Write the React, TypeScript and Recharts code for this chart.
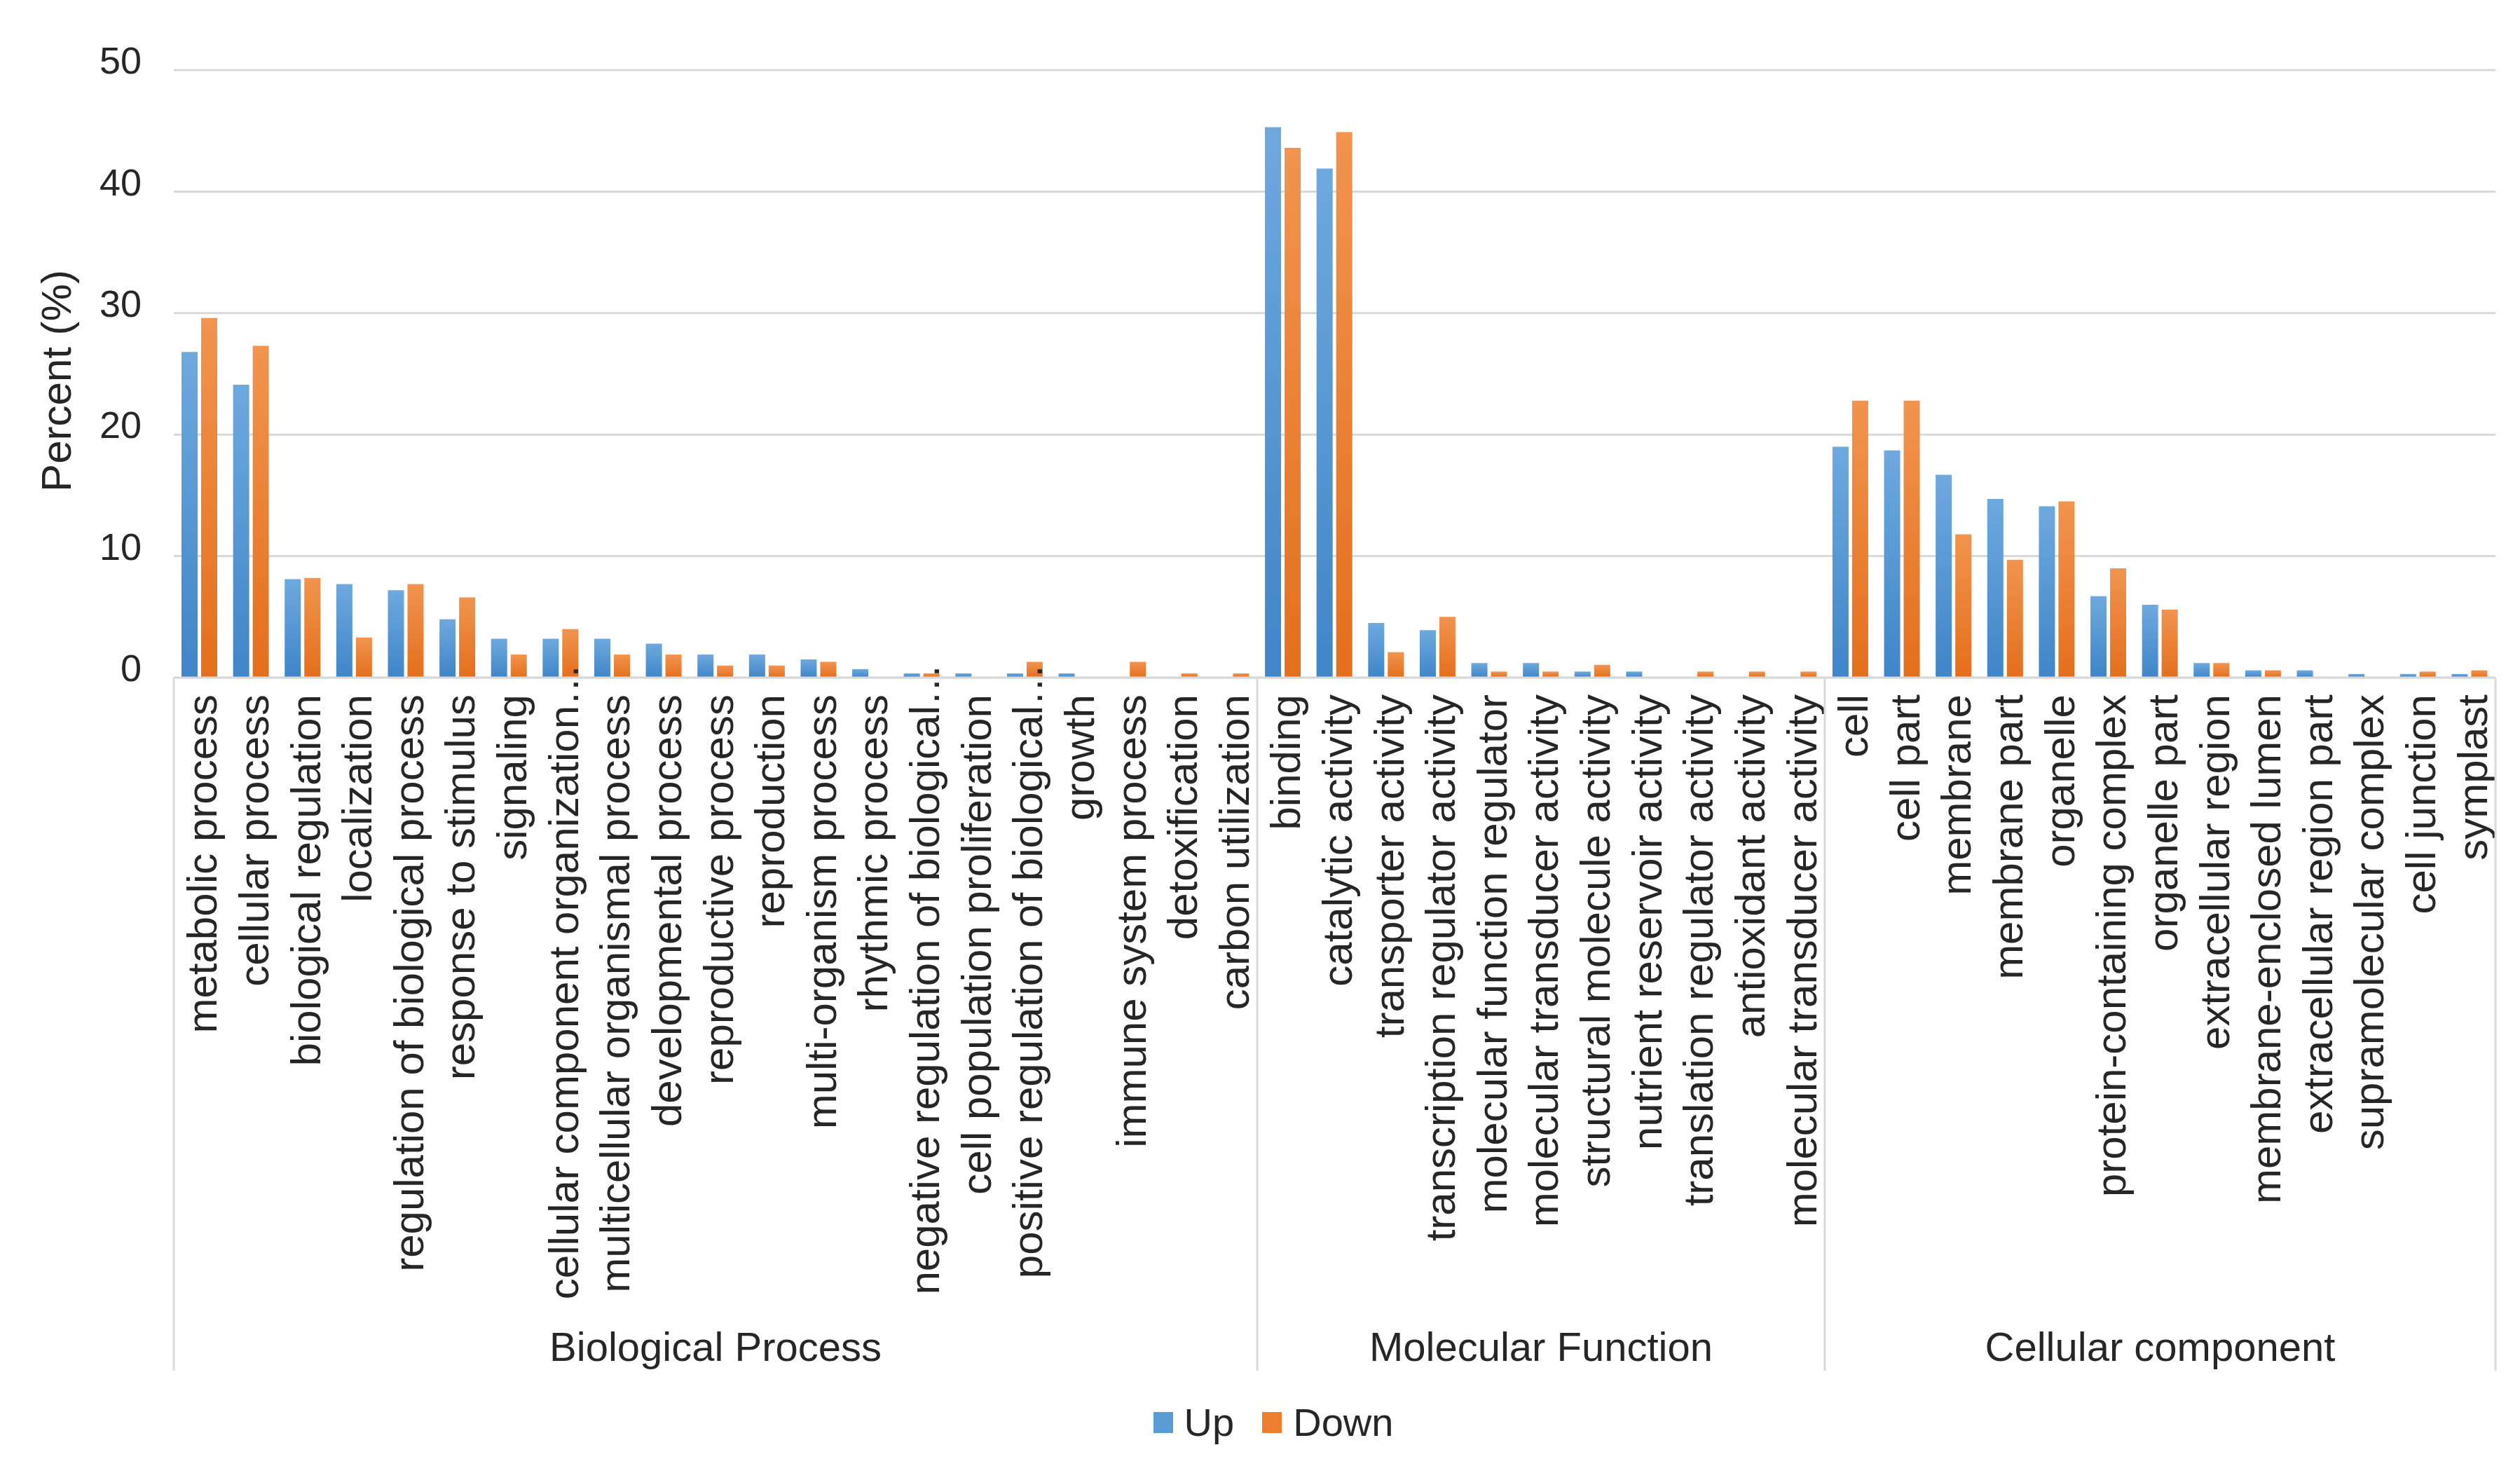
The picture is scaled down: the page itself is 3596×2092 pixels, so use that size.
import React from 'react';
import { BarChart, Bar, XAxis, YAxis, CartesianGrid, Legend, Label } from 'recharts';

// GO term categories, in plotting order
const categories = [
  'metabolic process',
  'cellular process',
  'biological regulation',
  'localization',
  'regulation of biological process',
  'response to stimulus',
  'signaling',
  'cellular component organization…',
  'multicellular organismal process',
  'developmental process',
  'reproductive process',
  'reproduction',
  'multi-organism process',
  'rhythmic process',
  'negative regulation of biological…',
  'cell population proliferation',
  'positive regulation of biological…',
  'growth',
  'immune system process',
  'detoxification',
  'carbon utilization',
  'binding',
  'catalytic activity',
  'transporter activity',
  'transcription regulator activity',
  'molecular function regulator',
  'molecular transducer activity',
  'structural molecule activity',
  'nutrient reservoir activity',
  'translation regulator activity',
  'antioxidant activity',
  'molecular transducer activity',
  'cell',
  'cell part',
  'membrane',
  'membrane part',
  'organelle',
  'protein-containing complex',
  'organelle part',
  'extracellular region',
  'membrane-enclosed lumen',
  'extracellular region part',
  'supramolecular complex',
  'cell junction',
  'symplast',
];

const groups = ['Biological Process', 'Molecular Function', 'Cellular component'];
const groupSizes = [21, 11, 13];

const upValues = [
  26.8, 24.1, 8.1, 7.7, 7.2, 4.8, 3.2, 3.2, 3.2, 2.8, 1.9, 1.9, 1.5, 0.7, 0.35, 0.35, 0.35, 0.35, 0, 0, 0,
  45.3, 41.9, 4.5, 3.9, 1.2, 1.2, 0.5, 0.5, 0, 0, 0,
  19.0, 18.7, 16.7, 14.7, 14.1, 6.7, 6.0, 1.2, 0.6, 0.6, 0.3, 0.3, 0.3,
];

const downValues = [
  29.6, 27.3, 8.2, 3.3, 7.7, 6.6, 1.9, 4.0, 1.9, 1.9, 1.0, 1.0, 1.3, 0, 0.35, 0, 1.3, 0, 1.3, 0.35, 0.35,
  43.6, 44.9, 2.1, 5.0, 0.5, 0.5, 1.05, 0, 0.5, 0.5, 0.5,
  22.8, 22.8, 11.8, 9.7, 14.5, 9.0, 5.6, 1.2, 0.6, 0, 0, 0.5, 0.6,
];

const yTicks = [0, 10, 20, 30, 40, 50];

const FONT = '"Liberation Sans", Arial, Helvetica, sans-serif';
const TEXT = '#262626';
const GRID = '#d9d9d9';

const W = 3588;
const H = 2084;
const MARGIN = { top: 92, right: 35, left: 0, bottom: 0 };
const Y_AXIS_W = 240;
const X_AXIS_H = 1000;
const LEGEND_H = 125;
const BAND = (W - MARGIN.left - MARGIN.right - Y_AXIS_W) / categories.length;

// first index of every group
const groupStarts = groupSizes.map((_, g) => groupSizes.slice(0, g).reduce((a, b) => a + b, 0));

const data = categories.map((name, i) => ({
  key: String(i),
  name,
  up: upValues[i],
  down: downValues[i],
}));

function CategoryTick(props: any) {
  const { x, y, payload } = props;
  const i = Number(payload.value);
  const label = categories[i];
  const lx = x + 4;
  // truncated labels push their ellipsis up past the axis, like Excel does
  const ly = y + (label.endsWith('…') ? -20 : 24);
  const g = groupStarts.indexOf(i);
  return (
    <g>
      <text
        x={lx}
        y={ly}
        transform={`rotate(-90, ${lx}, ${ly})`}
        textAnchor="end"
        dominantBaseline="central"
        fontSize={60}
        fontFamily={FONT}
        fill={TEXT}
      >
        {label}
      </text>
      {g >= 0 && (
        <>
          <line x1={x - BAND / 2} x2={x - BAND / 2} y1={y} y2={y + 989} stroke={GRID} strokeWidth={3} />
          <text
            x={x - BAND / 2 + (groupSizes[g] * BAND) / 2}
            y={y + 954}
            textAnchor="middle"
            dominantBaseline="central"
            fontSize={58}
            fontFamily={FONT}
            fill={TEXT}
          >
            {groups[g]}
          </text>
        </>
      )}
      {i === categories.length - 1 && (
        <line x1={x + BAND / 2} x2={x + BAND / 2} y1={y} y2={y + 989} stroke={GRID} strokeWidth={3} />
      )}
    </g>
  );
}

function LegendContent() {
  const items = [
    { label: 'Up', color: '#5b9bd5' },
    { label: 'Down', color: '#ed7d31' },
  ];
  return (
    <div
      style={{
        display: 'flex',
        justifyContent: 'center',
        alignItems: 'center',
        height: LEGEND_H,
        fontFamily: FONT,
        fontSize: 56,
        color: TEXT,
      }}
    >
      {items.map((it, k) => (
        <div key={it.label} style={{ display: 'flex', alignItems: 'center', marginLeft: k ? 40 : 0 }}>
          <span style={{ width: 28, height: 30, background: it.color, marginRight: 16, display: 'inline-block' }} />
          <span>{it.label}</span>
        </div>
      ))}
    </div>
  );
}

export default function App() {
  return (
    <div style={{ width: W, height: H }}>
      <BarChart width={W} height={H} data={data} margin={MARGIN} barSize={23} barGap={5}>
        <defs>
          <linearGradient id="gUp" x1="0" y1="0" x2="0" y2="1">
            <stop offset="0%" stopColor="#6ea9de" />
            <stop offset="100%" stopColor="#3f85c8" />
          </linearGradient>
          <linearGradient id="gDown" x1="0" y1="0" x2="0" y2="1">
            <stop offset="0%" stopColor="#f1944f" />
            <stop offset="100%" stopColor="#e46f1c" />
          </linearGradient>
        </defs>
        <CartesianGrid vertical={false} stroke={GRID} strokeWidth={3} />
        <XAxis
          dataKey="key"
          interval={0}
          height={X_AXIS_H}
          tickSize={0}
          tickMargin={0}
          tickLine={false}
          axisLine={{ stroke: GRID, strokeWidth: 3 }}
          tick={<CategoryTick />}
        />
        <YAxis
          width={Y_AXIS_W}
          domain={[0, 50]}
          ticks={yTicks}
          axisLine={false}
          tickLine={false}
          tickSize={0}
          tickMargin={46}
          tick={{ fontSize: 54, fill: TEXT, fontFamily: FONT, dy: -14 }}
        >
          <Label
            content={({ viewBox }: any) => {
              const cx = viewBox.x + 72;
              const cy = viewBox.y + viewBox.height / 2 + 10;
              return (
                <text
                  x={cx}
                  y={cy}
                  transform={`rotate(-90, ${cx}, ${cy})`}
                  textAnchor="middle"
                  dominantBaseline="central"
                  fontSize={60}
                  fontFamily={FONT}
                  fill={TEXT}
                >
                  Percent (%)
                </text>
              );
            }}
          />
        </YAxis>
        <Legend
          verticalAlign="bottom"
          content={<LegendContent />}
          wrapperStyle={{ left: 30, width: 3558, height: LEGEND_H }}
        />
        <Bar dataKey="up" name="Up" fill="url(#gUp)" isAnimationActive={false} />
        <Bar dataKey="down" name="Down" fill="url(#gDown)" isAnimationActive={false} />
      </BarChart>
    </div>
  );
}
